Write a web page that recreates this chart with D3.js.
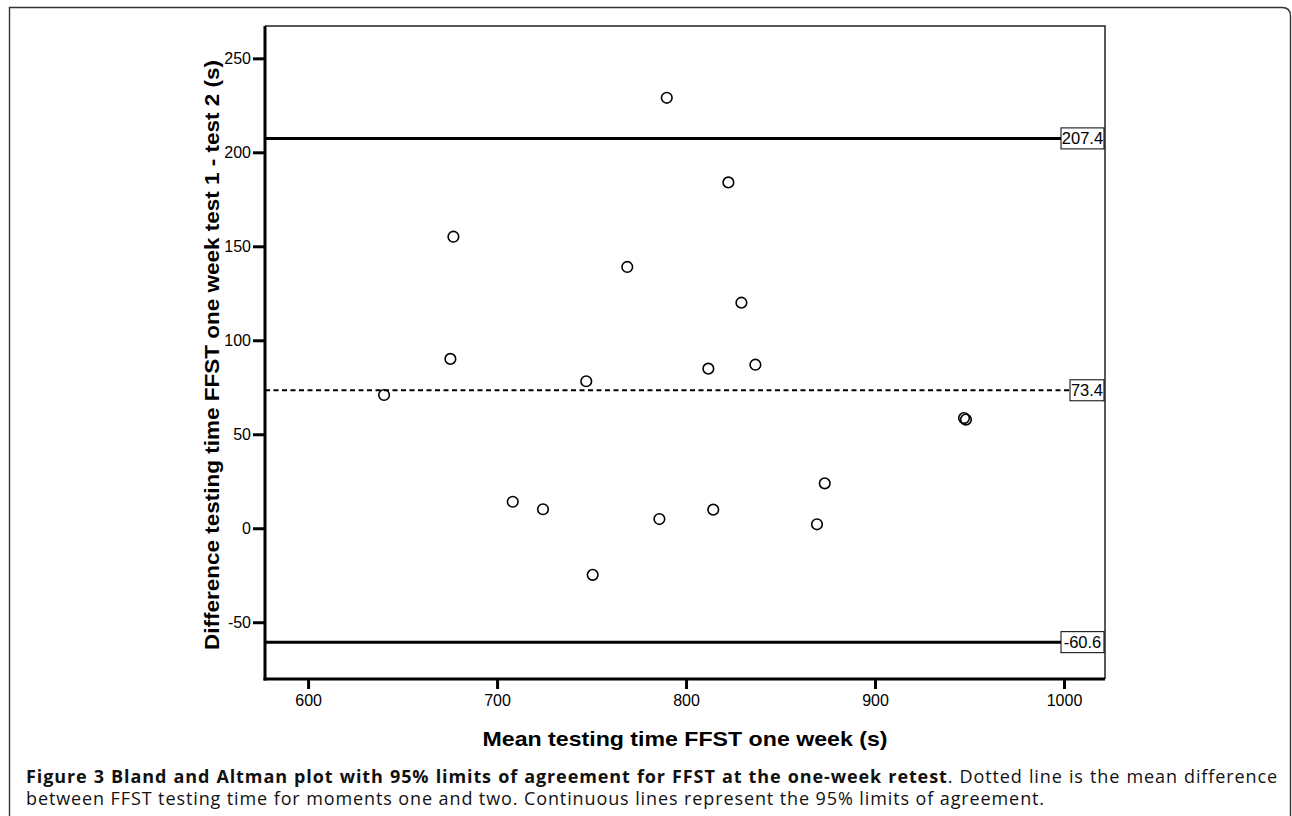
<!DOCTYPE html>
<html>
<head>
<meta charset="utf-8">
<script src="https://cdn.jsdelivr.net/npm/d3@7"></script>
<style>
  body { margin: 0; background: #fff; }
  #wrap { position: relative; width: 1292px; height: 816px; }
  .caption { position: absolute; left: 26px; width: 1252px; font-family: "Open Sans", sans-serif; font-size: 18px; line-height: 22px; color: #111; white-space: nowrap; }
  .caption.l1 { text-align: justify; text-align-last: justify; white-space: normal; }
</style>
</head>
<body>
<div id="wrap"></div>
<script>
// data
const meanTime = [640.2, 675.3, 676.9, 708.3, 724.3, 747.2, 750.6, 768.9, 785.9, 789.8,
                  811.8, 814.4, 822.4, 829.3, 836.7, 869.3, 873.4, 947.1, 948.1];
const diffTime = [70.9, 90.1, 155.1, 14.1, 10.1, 78.2, -24.8, 139.0, 4.9, 229.0,
                  84.9, 9.9, 184.0, 120.0, 87.0, 2.1, 23.9, 58.6, 57.8];
const refLines = [207.4, 73.4, -60.6];
const xTicks = [600, 700, 800, 900, 1000];
const yTicks = [-50, 0, 50, 100, 150, 200, 250];

const WIDTH = 1292;
const HEIGHT = 816;
const plot = {left: 265, right: 1105, top: 26, bottom: 679};

const svg = d3.select('#wrap').append('svg')
    .attr('width', WIDTH).attr('height', HEIGHT)
    .style('position', 'absolute').style('left', 0).style('top', 0);

// outer figure frame, rounded top-right corner
svg.append('path')
    .attr('d', `M9.5,${HEIGHT} V7.5 H1282 Q1290.5,7.5 1290.5,16 V${HEIGHT}`)
    .attr('fill', 'none').attr('stroke', '#333').attr('stroke-width', 1.4);

const x = d3.scaleLinear().domain([577.2, 1021.7]).range([plot.left, plot.right]);
const y = d3.scaleLinear().domain([-80.2, 267.2]).range([plot.bottom, plot.top]);

const g = svg.append('g');

// thin top / right frame
g.append('path')
    .attr('d', `M${plot.left},${plot.top} H${plot.right} V${plot.bottom}`)
    .attr('fill', 'none').attr('stroke', '#222').attr('stroke-width', 1.5);

const tickFont = '"Liberation Sans", Arial, sans-serif';
const fmt = d => (d < 0 ? '-' : '') + Math.abs(d);

const yAxis = d3.axisLeft(y).tickValues(yTicks).tickFormat(fmt).tickSize(12).tickPadding(2).tickSizeOuter(0);
const yAxisEl = g.append('g').attr('transform', `translate(${plot.left},0)`).call(yAxis);
const xAxis = d3.axisBottom(x).tickValues(xTicks).tickFormat(fmt).tickSize(10).tickPadding(6).tickSizeOuter(0);
const xAxisEl = g.append('g').attr('transform', `translate(0,${plot.bottom})`).call(xAxis);

[yAxisEl, xAxisEl].forEach(a => {
    a.attr('font-family', tickFont).attr('font-size', 16);
    a.select('.domain').attr('stroke', '#000').attr('stroke-width', 3);
    a.selectAll('.tick line').attr('stroke', '#000').attr('stroke-width', 3);
    a.selectAll('.tick text').attr('fill', '#000');
});
// stretch domains a bit so the corner closes
yAxisEl.select('.domain').attr('d', `M0,${plot.top}V${plot.bottom + 1.5}`);
xAxisEl.select('.domain').attr('d', `M${plot.left - 1.5},0H${plot.right}`);

// limits of agreement and mean difference
const boxW = d => d === 73.4 ? 34 : 43;
g.selectAll('.ref').data(refLines).enter()
    .append('line')
    .attr('class', 'ref')
    .attr('x1', plot.left)
    .attr('x2', d => plot.right - 1 - boxW(d))
    .attr('y1', d => y(d)).attr('y2', d => y(d))
    .attr('stroke', '#000')
    .attr('stroke-width', d => d === 73.4 ? 2 : 3)
    .attr('stroke-dasharray', d => d === 73.4 ? '5,3.5' : null);

const labels = g.selectAll('.reflab').data(refLines).enter()
    .append('g').attr('class', 'reflab')
    .attr('transform', d => `translate(${plot.right - 1 - boxW(d)},${y(d)})`);
labels.append('rect')
    .attr('x', 0).attr('y', -10.5).attr('width', boxW).attr('height', 21)
    .attr('fill', '#fff').attr('stroke', '#000').attr('stroke-width', 1);
labels.append('text')
    .attr('x', d => boxW(d) / 2).attr('y', 6)
    .attr('text-anchor', 'middle')
    .style('font-family', tickFont).style('font-size', '16.5px')
    .text(d => fmt(d.toFixed(1)));

// points
g.selectAll('.pt').data(meanTime.map((m, i) => ({m, d: diffTime[i]}))).enter()
    .append('circle')
    .attr('class', 'pt')
    .attr('cx', d => x(d.m)).attr('cy', d => y(d.d))
    .attr('r', 5.3)
    .attr('fill', 'none').attr('stroke', '#000').attr('stroke-width', 1.6);

// axis titles
svg.append('text')
    .attr('x', (plot.left + plot.right) / 2).attr('y', 746)
    .attr('text-anchor', 'middle')
    .attr('textLength', 405).attr('lengthAdjust', 'spacingAndGlyphs')
    .style('font-family', tickFont).style('font-size', '21px').style('font-weight', 'bold')
    .text('Mean testing time FFST one week (s)');

svg.append('text')
    .attr('transform', `translate(219,355) rotate(-90)`)
    .attr('text-anchor', 'middle')
    .attr('textLength', 590).attr('lengthAdjust', 'spacingAndGlyphs')
    .style('font-family', tickFont).style('font-size', '21px').style('font-weight', 'bold')
    .text('Difference testing time FFST one week test 1 - test 2 (s)');

// caption
const wrap = d3.select('#wrap');
const c1 = wrap.append('div').attr('class', 'caption l1').style('top', '765px');
c1.append('b').text('Figure 3 Bland and Altman plot with 95% limits of agreement for FFST at the one-week retest');
c1.append('span').text('. Dotted line is the mean difference');
const c2 = wrap.append('div').attr('class', 'caption').style('top', '787px');
const c2s = c2.append('span')
    .text('between FFST testing time for moments one and two. Continuous lines represent the 95% limits of agreement.');
// widen the letters a little so the second line ends where the original does
const w2 = c2s.node().getBoundingClientRect().width;
const n2 = c2s.text().length;
const ls = Math.max(0, (1019 - w2) / n2);
c1.style('letter-spacing', ls + 'px');
c2.style('letter-spacing', ls + 'px');
</script>
</body>
</html>
